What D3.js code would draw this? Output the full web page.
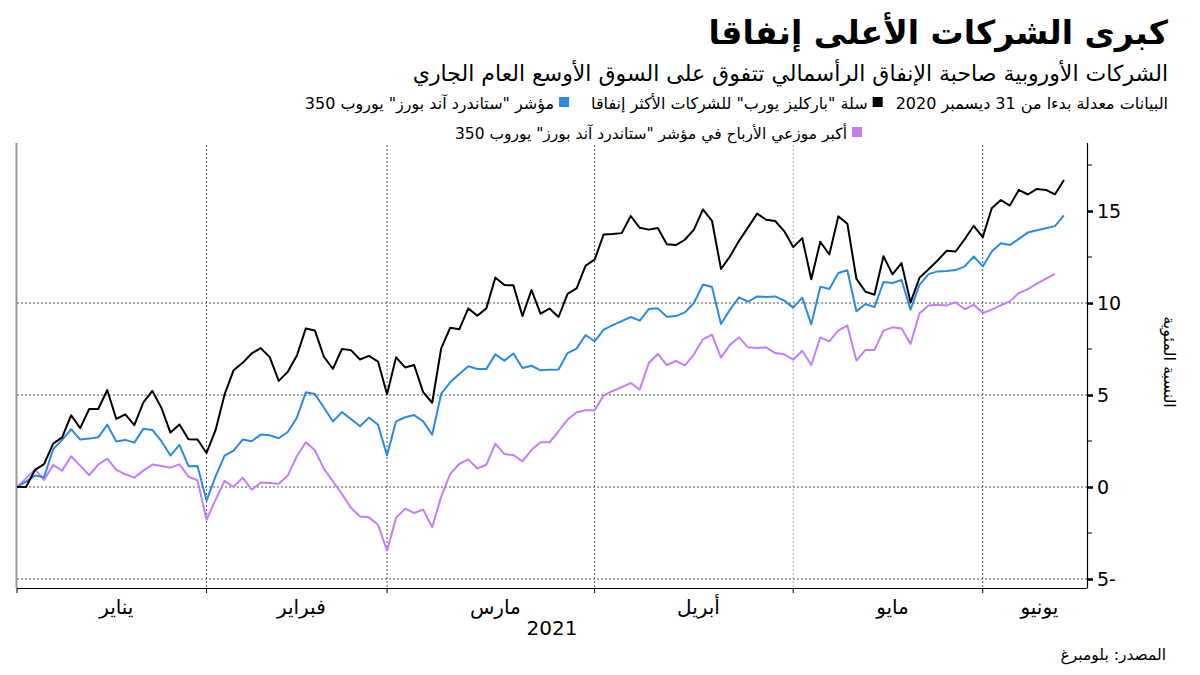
<!DOCTYPE html>
<html><head><meta charset="utf-8">
<script src="https://cdn.jsdelivr.net/npm/d3@7"></script>
<style>
html,body{margin:0;padding:0;background:#fff;}
svg{display:block;}
text{font-family:"DejaVu Sans","Noto Sans",sans-serif;}
</style></head>
<body>
<svg id="c" width="1200" height="675"></svg>
<script>
// ---- data ----
const startDate = "2020-12-31";
const endDate = "2021-06-11";
const monthLabels = ["يناير","فبراير","مارس","أبريل","مايو","يونيو"];
const yearLabel = "2021";
const yTicks = [-5, 0, 5, 10, 15];
const yMinorTicks = [-2.5, 2.5, 7.5, 12.5, 17.5];
const gridValues = [-5, 0, 5, 10];
const barclays = [0,0,0.93,1.24,2.35,2.7,3.9,3.2,4.24,4.24,5.27,3.7,3.95,3.36,4.6,5.22,4.3,2.96,3.4,2.6,2.58,1.85,3.09,5.03,6.35,6.75,7.26,7.55,7.06,5.77,6.26,7.13,8.62,8.51,7.08,6.42,7.5,7.44,6.93,7.13,6.82,5.04,7.05,6.5,6.63,5.16,4.58,7.54,8.66,8.57,9.71,9.31,9.71,11.39,10.98,10.96,9.29,10.71,9.42,9.7,9.24,10.5,10.8,12.03,12.36,13.73,13.75,13.8,14.73,14.09,13.99,14.08,13.2,13.15,13.44,13.99,15.09,14.47,11.85,12.54,13.38,14.11,14.86,14.53,14.46,13.91,13.04,13.53,11.29,13.33,12.64,14.71,14.31,11.32,10.62,10.45,12.54,11.56,12.17,10.04,11.38,11.84,12.31,12.84,12.8,13.47,14.2,13.58,15.15,15.6,15.3,16.15,15.9,16.2,16.15,15.91,16.69];
const spEurope = [0,0.29,0.62,0.53,2.05,2.56,3.14,2.58,2.63,2.7,3.39,2.47,2.56,2.41,3.16,3.1,2.49,1.71,2.29,1.13,1.14,-0.74,0.58,1.71,1.98,2.58,2.49,2.85,2.81,2.65,2.99,3.76,5.15,5.05,4.32,3.56,4.07,3.7,3.3,3.77,3.38,1.72,3.57,3.79,3.91,3.57,2.84,5.07,5.69,6.14,6.56,6.41,6.41,7.21,6.87,7.26,6.47,6.59,6.34,6.38,6.39,7.28,7.52,8.26,7.92,8.55,8.8,9.02,9.24,9.04,9.67,9.71,9.26,9.29,9.49,10.0,11.01,10.87,8.86,9.64,10.31,10.07,10.36,10.33,10.36,10.13,9.75,10.29,8.84,10.89,10.76,11.63,11.78,9.55,9.95,9.78,11.14,11.09,11.25,9.64,11.0,11.57,11.72,11.74,11.79,11.99,12.53,11.99,12.8,13.25,13.15,13.49,13.83,13.96,14.07,14.18,14.76];
const dividendPayers = [0,0.47,0.96,0.38,1.2,0.89,1.67,1.16,0.64,1.22,1.54,0.93,0.69,0.51,0.89,1.22,1.14,1.05,1.23,0.56,0.37,-1.78,-0.69,0.33,0,0.51,-0.15,0.24,0.22,0.18,0.62,1.67,2.43,2.0,1.0,0.31,-0.38,-1.13,-1.6,-1.65,-2.05,-3.46,-1.67,-1.18,-1.41,-1.23,-2.19,-0.51,0.71,1.25,1.5,1.01,1.21,2.36,1.79,1.74,1.39,2.01,2.43,2.43,3.03,3.66,4.06,4.17,4.17,4.98,5.22,5.43,5.65,5.29,6.74,7.23,6.63,6.85,6.61,7.21,8.03,8.28,7.03,7.74,8.13,7.59,7.55,7.59,7.28,7.21,6.92,7.41,6.63,8.13,7.92,8.51,8.77,6.87,7.45,7.45,8.5,8.68,8.62,7.78,9.44,9.87,9.91,9.87,10.04,9.66,9.91,9.46,9.64,9.87,10.09,10.54,10.76,11.05,11.32,11.59];
const seriesNames = ["سلة \"باركليز يورب\" للشركات الأكثر إنفاقا","مؤشر \"ستاندرد آند بورز\" يوروب 350","أكبر موزعي الأرباح في مؤشر \"ستاندرد آند بورز\" يوروب 350"];
const seriesColors = ["#000000","#2b8be3","#c47ff6"];
const title = "كبرى الشركات الأعلى إنفاقا";
const subtitle = "الشركات الأوروبية صاحبة الإنفاق الرأسمالي تتفوق على السوق الأوسع العام الجاري";
const note = "البيانات معدلة بدءا من 31 ديسمبر 2020";
const yTitle = "النسبة المئوية";
const source = "المصدر: بلومبرغ";

// ---- build ----
const parse = d3.timeParse("%Y-%m-%d");
const dates = d3.timeDay.range(parse(startDate), d3.timeDay.offset(parse(endDate),1))
  .filter(d => d.getDay() !== 0 && d.getDay() !== 6);
const boundaries = [0];
for (let i = 1; i < dates.length; i++) {
  if (dates[i].getMonth() !== dates[i-1].getMonth() && i > 1) boundaries.push(i-1);
}
const svg = d3.select("#c");
const L = 17, R = 1087, T = 145, B = 588;
const x = d3.scaleLinear().domain([0, 118.55]).range([L, R]);
const y = d3.scaleLinear().domain([-5.49, 18.59]).range([B, T]);

// grid
svg.append("g").selectAll("line").data(gridValues).join("line")
  .attr("x1", L).attr("x2", R).attr("y1", d => y(d)).attr("y2", d => y(d))
  .attr("stroke", "#555").attr("stroke-width", 1).attr("stroke-dasharray", "2,2");
svg.append("g").selectAll("line").data(boundaries.slice(1)).join("line")
  .attr("x1", d => x(d)).attr("x2", d => x(d)).attr("y1", T).attr("y2", B)
  .attr("stroke", (d,i) => i === 3 ? "#aaa" : "#555").attr("stroke-width", 1).attr("stroke-dasharray", "2,2");

// frame
svg.append("line").attr("x1", L - 0.5).attr("x2", L - 0.5).attr("y1", T - 2).attr("y2", B)
  .attr("stroke", "#999").attr("stroke-width", 2);
svg.append("line").attr("x1", L).attr("x2", R).attr("y1", B + 0.5).attr("y2", B + 0.5)
  .attr("stroke", "#000").attr("stroke-width", 1);

// x ticks
svg.append("g").selectAll("line").data(boundaries).join("line")
  .attr("x1", d => x(d)).attr("x2", d => x(d)).attr("y1", B).attr("y2", B + 5)
  .attr("stroke", "#000").attr("stroke-width", 1);
const labelPos = boundaries.map((b, i) => (b + (i + 1 < boundaries.length ? boundaries[i+1] : 118.55)) / 2 + 0.5);
svg.append("g").selectAll("text").data(monthLabels).join("text")
  .attr("x", (d,i) => x(labelPos[i])).attr("y", 614)
  .attr("text-anchor", "middle").attr("font-size", 20).attr("fill", "#000").text(d => d);
svg.append("text").attr("x", 552).attr("y", 635).attr("text-anchor", "middle")
  .attr("font-size", 20).text(yearLabel);

// y axis
const yAxis = d3.axisRight(y).tickValues(yTicks).tickSize(6).tickFormat(d => String(d));
const ga = svg.append("g").attr("transform", `translate(${R},0)`).call(yAxis);
ga.select(".domain").attr("d", `M0.5,${T - 2}V${B + 0.5}`).attr("stroke", "#000").attr("stroke-width", 1.2);
ga.selectAll(".tick line").attr("stroke", "#000").attr("stroke-width", 2.5);
ga.selectAll(".tick text").attr("x", 10).attr("font-size", 19).attr("fill", "#000")
  .attr("font-family", "\"DejaVu Sans\",sans-serif")
  .attr("direction", "rtl").attr("text-anchor", "end");
svg.append("g").selectAll("line").data(yMinorTicks).join("line")
  .attr("x1", R).attr("x2", R + 5).attr("y1", d => y(d)).attr("y2", d => y(d))
  .attr("stroke", "#000").attr("stroke-width", 1);
svg.append("text").attr("transform", `translate(1164,362) rotate(90)`)
  .attr("text-anchor", "middle").attr("font-size", 16).attr("direction", "rtl").text(yTitle);

// lines
const line = d3.line().x((d,i) => x(i)).y(d => y(d));
[[dividendPayers, 2], [spEurope, 1], [barclays, 0]].forEach(([s, k]) => {
  svg.append("path").datum(s).attr("d", line).attr("fill", "none")
    .attr("stroke", seriesColors[k]).attr("stroke-width", 2).attr("stroke-linejoin", "round");
});

// titles
svg.append("text").attr("x", 1168).attr("y", 44).attr("direction", "rtl").attr("text-anchor", "start")
  .attr("font-size", 33).attr("font-weight", 700).text(title);
svg.append("text").attr("x", 1168).attr("y", 81).attr("direction", "rtl").attr("text-anchor", "start")
  .attr("font-size", 22).text(subtitle);

// legend
function rtlText(xr, yb, t, size) {
  return svg.append("text").attr("x", xr).attr("y", yb).attr("direction", "rtl")
    .attr("text-anchor", "start").attr("font-size", size).text(t);
}
let lx = 1168;
const n = rtlText(lx, 109, note, 16);
lx -= n.node().getComputedTextLength() + 13;
[0, 1].forEach(k => {
  svg.append("rect").attr("x", lx - 10).attr("y", 97).attr("width", 10).attr("height", 10).attr("fill", seriesColors[k]);
  lx -= 15;
  const t = rtlText(lx, 109, seriesNames[k], 16);
  lx -= t.node().getComputedTextLength() + 22;
});
svg.append("rect").attr("x", 852).attr("y", 127).attr("width", 10).attr("height", 10).attr("fill", seriesColors[2]);
rtlText(847, 139, seriesNames[2], 15.5);

// source
rtlText(1166, 660, source, 15.5);
</script>
</body></html>
